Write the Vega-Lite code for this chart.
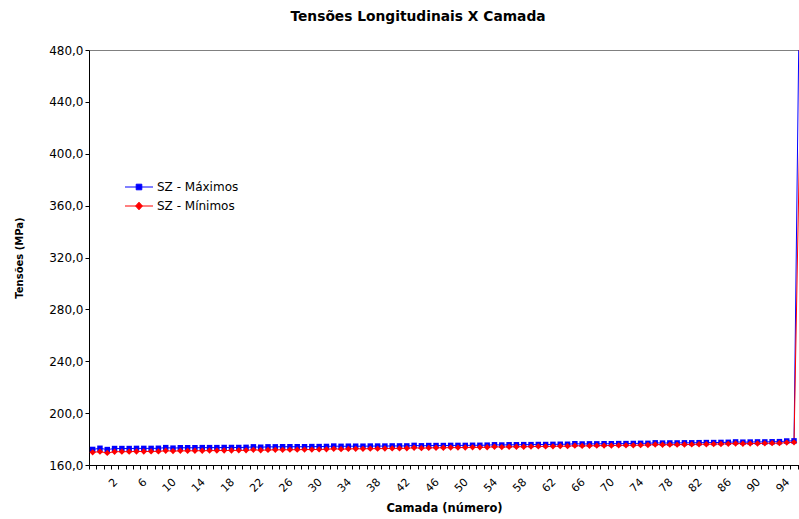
{
  "$schema": "https://vega.github.io/schema/vega-lite/v6.json",
  "width": 710,
  "height": 415,
  "autosize": {"type": "none"},
  "padding": {"left": 89, "top": 50, "right": 0, "bottom": 54},
  "background": "white",
  "title": {"text": "Tensões Longitudinais X Camada", "font": "DejaVu Sans", "fontSize": 13.8, "fontWeight": "bold", "color": "black", "anchor": "middle", "offset": 20, "dx": -26},
  "data": {"values": [
    {"c":0,"max":172.0,"min":169.8},{"c":1,"max":172.9,"min":170.3},{"c":2,"max":171.9,"min":169.3},{"c":3,"max":172.7,"min":170.2},
    {"c":4,"max":172.7,"min":170.3},{"c":5,"max":172.7,"min":170.3},{"c":6,"max":172.8,"min":170.4},{"c":7,"max":172.8,"min":170.4},
    {"c":8,"max":172.8,"min":170.5},{"c":9,"max":172.9,"min":170.5},{"c":10,"max":173.4,"min":171.0},{"c":11,"max":173.0,"min":170.7},
    {"c":12,"max":173.3,"min":170.9},{"c":13,"max":173.3,"min":170.9},{"c":14,"max":173.3,"min":171.0},{"c":15,"max":173.4,"min":171.0},
    {"c":16,"max":173.4,"min":171.1},{"c":17,"max":173.4,"min":171.1},{"c":18,"max":173.5,"min":171.2},{"c":19,"max":173.5,"min":171.2},
    {"c":20,"max":173.5,"min":171.3},{"c":21,"max":173.6,"min":171.3},{"c":22,"max":174.0,"min":171.7},{"c":23,"max":173.7,"min":171.4},
    {"c":24,"max":174.0,"min":171.6},{"c":25,"max":174.0,"min":171.7},{"c":26,"max":174.1,"min":171.7},{"c":27,"max":174.1,"min":171.8},
    {"c":28,"max":174.1,"min":171.8},{"c":29,"max":174.1,"min":171.9},{"c":30,"max":174.2,"min":171.9},{"c":31,"max":174.2,"min":172.0},
    {"c":32,"max":174.3,"min":172.1},{"c":33,"max":174.6,"min":172.5},{"c":34,"max":174.4,"min":172.2},{"c":35,"max":174.5,"min":172.4},
    {"c":36,"max":174.5,"min":172.5},{"c":37,"max":174.5,"min":172.5},{"c":38,"max":174.6,"min":172.6},{"c":39,"max":174.6,"min":172.6},
    {"c":40,"max":174.6,"min":172.7},{"c":41,"max":174.7,"min":172.8},{"c":42,"max":174.7,"min":172.8},{"c":43,"max":174.7,"min":172.9},
    {"c":44,"max":175.1,"min":173.3},{"c":45,"max":174.8,"min":173.0},{"c":46,"max":175.0,"min":173.2},{"c":47,"max":175.0,"min":173.3},
    {"c":48,"max":175.0,"min":173.3},{"c":49,"max":175.1,"min":173.4},{"c":50,"max":175.1,"min":173.4},{"c":51,"max":175.1,"min":173.5},
    {"c":52,"max":175.2,"min":173.6},{"c":53,"max":175.2,"min":173.6},{"c":54,"max":175.3,"min":173.7},{"c":55,"max":175.6,"min":174.1},
    {"c":56,"max":175.4,"min":173.8},{"c":57,"max":175.6,"min":174.0},{"c":58,"max":175.6,"min":174.1},{"c":59,"max":175.7,"min":174.1},
    {"c":60,"max":175.7,"min":174.2},{"c":61,"max":175.8,"min":174.3},{"c":62,"max":175.8,"min":174.3},{"c":63,"max":175.9,"min":174.4},
    {"c":64,"max":176.0,"min":174.5},{"c":65,"max":176.0,"min":174.5},{"c":66,"max":176.4,"min":174.9},{"c":67,"max":176.2,"min":174.7},
    {"c":68,"max":176.3,"min":174.8},{"c":69,"max":176.3,"min":174.9},{"c":70,"max":176.4,"min":175.0},{"c":71,"max":176.4,"min":175.0},
    {"c":72,"max":176.5,"min":175.1},{"c":73,"max":176.5,"min":175.2},{"c":74,"max":176.6,"min":175.2},{"c":75,"max":176.7,"min":175.3},
    {"c":76,"max":176.7,"min":175.4},{"c":77,"max":177.1,"min":175.8},{"c":78,"max":176.9,"min":175.6},{"c":79,"max":177.0,"min":175.7},
    {"c":80,"max":177.0,"min":175.7},{"c":81,"max":177.1,"min":175.8},{"c":82,"max":177.1,"min":175.9},{"c":83,"max":177.2,"min":176.0},
    {"c":84,"max":177.3,"min":176.0},{"c":85,"max":177.3,"min":176.1},{"c":86,"max":177.4,"min":176.2},{"c":87,"max":177.5,"min":176.3},
    {"c":88,"max":177.8,"min":176.6},{"c":89,"max":177.6,"min":176.4},{"c":90,"max":177.7,"min":176.5},{"c":91,"max":177.8,"min":176.6},
    {"c":92,"max":177.8,"min":176.7},{"c":93,"max":177.9,"min":176.8},{"c":94,"max":178.0,"min":176.8},{"c":95,"max":178.5,"min":177.3},
    {"c":96,"max":178.6,"min":177.5},{"c":97,"max":650.0,"min":480.0}
  ]},
  "transform": [{"fold": ["max", "min"], "as": ["serie", "v"]}],
  "layer": [
    {
      "mark": {"type": "line", "clip": true, "strokeWidth": 1},
      "encoding": {
        "x": {"field": "c", "type": "quantitative",
          "scale": {"domain": [-0.5, 96.68], "nice": false, "zero": false},
          "axis": {"orient": "bottom", "values": [-0.5,0.5,1.5,2.5,3.5,4.5,5.5,6.5,7.5,8.5,9.5,10.5,11.5,12.5,13.5,14.5,15.5,16.5,17.5,18.5,19.5,20.5,21.5,22.5,23.5,24.5,25.5,26.5,27.5,28.5,29.5,30.5,31.5,32.5,33.5,34.5,35.5,36.5,37.5,38.5,39.5,40.5,41.5,42.5,43.5,44.5,45.5,46.5,47.5,48.5,49.5,50.5,51.5,52.5,53.5,54.5,55.5,56.5,57.5,58.5,59.5,60.5,61.5,62.5,63.5,64.5,65.5,66.5,67.5,68.5,69.5,70.5,71.5,72.5,73.5,74.5,75.5,76.5,77.5,78.5,79.5,80.5,81.5,82.5,83.5,84.5,85.5,86.5,87.5,88.5,89.5,90.5,91.5,92.5,93.5,94.5,95.5,96.5],
            "labels": false, "ticks": true, "tickSize": 4, "tickColor": "black", "domainColor": "black", "grid": false, "title": null}},
        "y": {"field": "v", "type": "quantitative",
          "scale": {"domain": [160, 480], "nice": false, "zero": false},
          "axis": {"orient": "left", "values": [160,200,240,280,320,360,400,440,480],
            "labelExpr": "replace(format(datum.value, '.1f'), '.', ',')",
            "tickSize": 4, "tickColor": "black", "domainColor": "black", "grid": false,
            "labelFont": "DejaVu Sans", "labelFontSize": 12, "labelColor": "black", "labelPadding": 2,
            "title": "Tensões (MPa)", "titleFont": "DejaVu Sans", "titleFontSize": 10, "titleFontWeight": "bold", "titleColor": "black", "titlePadding": 24}},
        "stroke": {"field": "serie", "type": "nominal", "scale": {"domain": ["max", "min"], "range": ["#0000ff", "#ff0000"]},
          "legend": {"orient": "none", "legendX": 44, "legendY": 131, "title": null, "padding": 0, "symbolSize": 64, "symbolStrokeWidth": 1, "symbolOpacity": 1, "labelOffset": 12, "rowPadding": 7, "labelFont": "DejaVu Sans", "labelFontSize": 12, "labelColor": "black", "labelExpr": "datum.value == 'max' ? 'SZ - Máximos' : 'SZ - Mínimos'"}}
      }
    },
    {
      "transform": [{"filter": "datum.serie == 'max'"}],
      "mark": {"type": "point", "shape": "square", "filled": true, "size": 30, "color": "#0000ff", "opacity": 1, "clip": true},
      "encoding": {
        "x": {"field": "c", "type": "quantitative",
          "axis": {"orient": "bottom", "values": [2,6,10,14,18,22,26,30,34,38,42,46,50,54,58,62,66,70,74,78,82,86,90,94],
            "ticks": false, "tickSize": 0, "domain": false, "grid": false, "labelFlush": false, "labelOverlap": false,
            "labelAngle": -45, "labelAlign": "right", "labelBaseline": "top", "labelOffset": 4, "labelPadding": 11,
            "labelFont": "DejaVu Sans", "labelFontSize": 11, "labelColor": "black",
            "title": "Camada (número)", "titleFont": "DejaVu Sans", "titleFontSize": 11.5, "titleFontWeight": "bold", "titleColor": "black", "titlePadding": 9}},
        "y": {"field": "v", "type": "quantitative", "axis": null}
      }
    },
    {
      "transform": [{"filter": "datum.serie == 'min'"}],
      "mark": {"type": "point", "shape": "diamond", "filled": true, "size": 40, "color": "#ff0000", "opacity": 1, "clip": true},
      "encoding": {
        "x": {"field": "c", "type": "quantitative",
          "axis": {"orient": "top", "labels": false, "ticks": false, "grid": false, "domainColor": "#808080", "title": null}},
        "y": {"field": "v", "type": "quantitative", "axis": null}
      }
    },
    {
      "mark": {"type": "point", "filled": true, "opacity": 0, "clip": true},
      "encoding": {
        "x": {"field": "c", "type": "quantitative", "axis": null},
        "y": {"field": "v", "type": "quantitative", "axis": null},
        "fill": {"field": "serie", "type": "nominal", "scale": {"domain": ["max", "min"], "range": ["#0000ff", "#ff0000"]},
          "legend": {"orient": "none", "legendX": 44, "legendY": 131, "title": null, "padding": 0, "symbolSize": 64, "symbolStrokeWidth": 1, "symbolOpacity": 1, "labelOffset": 12, "rowPadding": 7, "labelFont": "DejaVu Sans", "labelFontSize": 12, "labelColor": "black", "labelExpr": "datum.value == 'max' ? 'SZ - Máximos' : 'SZ - Mínimos'"}},
        "stroke": {"field": "serie", "type": "nominal", "scale": {"domain": ["max", "min"], "range": ["#0000ff", "#ff0000"]},
          "legend": {"orient": "none", "legendX": 44, "legendY": 131, "title": null, "padding": 0, "symbolSize": 64, "symbolStrokeWidth": 1, "symbolOpacity": 1, "labelOffset": 12, "rowPadding": 7, "labelFont": "DejaVu Sans", "labelFontSize": 12, "labelColor": "black", "labelExpr": "datum.value == 'max' ? 'SZ - Máximos' : 'SZ - Mínimos'"}},
        "shape": {"field": "serie", "type": "nominal", "scale": {"domain": ["max", "min"], "range": ["M-3.5,0H3.5M-0.7,-0.7H0.7V0.7H-0.7Z", "M-3.5,0H3.5M0,-0.95L0.85,0L0,0.95L-0.85,0Z"]},
          "legend": {"orient": "none", "legendX": 44, "legendY": 131, "title": null, "padding": 0, "symbolSize": 64, "symbolStrokeWidth": 1, "symbolOpacity": 1, "labelOffset": 12, "rowPadding": 7, "labelFont": "DejaVu Sans", "labelFontSize": 12, "labelColor": "black", "labelExpr": "datum.value == 'max' ? 'SZ - Máximos' : 'SZ - Mínimos'"}}
      }
    }
  ],
  "resolve": {"axis": {"x": "independent", "y": "independent"}},
  "config": {
    "view": {"stroke": null}
  }
}
